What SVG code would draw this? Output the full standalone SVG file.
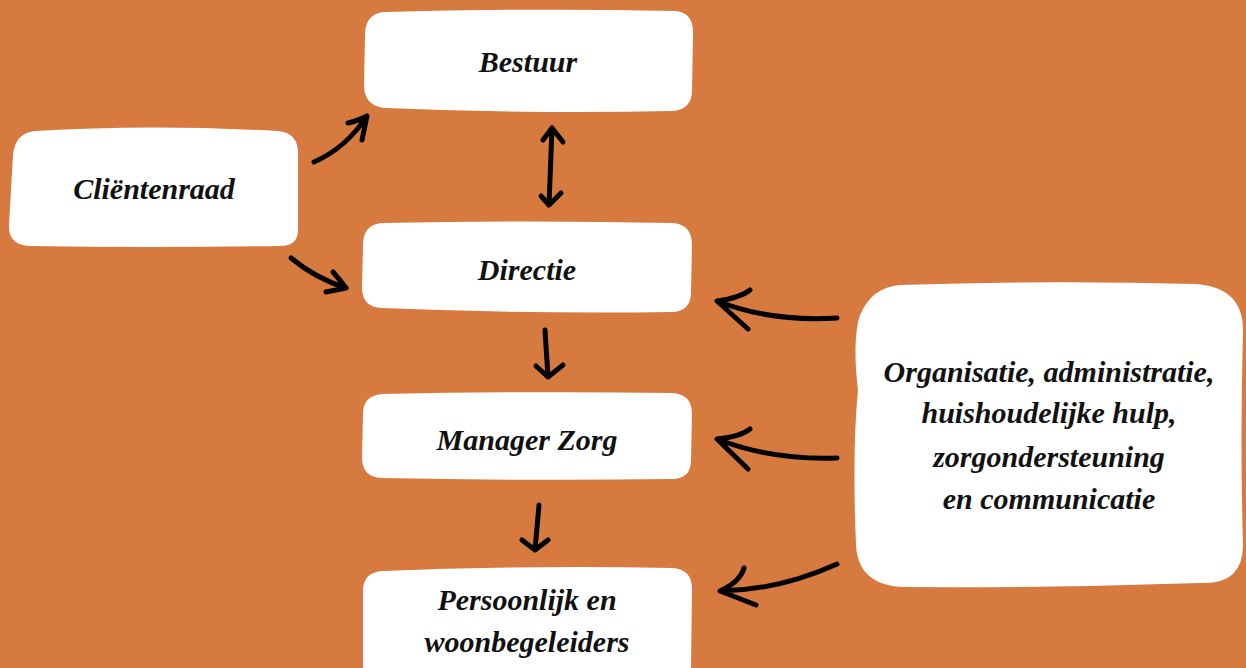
<svg xmlns="http://www.w3.org/2000/svg" width="1246" height="668" viewBox="0 0 1246 668">
<style>
.box{fill:#ffffff}
.t{font-family:"Liberation Serif","DejaVu Serif",serif;font-style:italic;font-weight:bold;font-size:30px;fill:#111;text-anchor:middle}
.c{fill:none;stroke:#000;stroke-width:5;stroke-linecap:round;stroke-linejoin:round}
</style>
<rect width="1246" height="668" fill="#D77A40"/>
<g id="bestuur">
<path class="box" d="M385,12 Q530,8 675,11 Q694,12 693,35 L692,90 Q692,110 672,111 Q530,114 385,108 Q364,106 364,85 L365,35 Q365,13 385,12 Z"/>
<text class="t" x="528" y="72">Bestuur</text>
</g>
<g id="clientenraad">
<path class="box" d="M35,131 Q150,124 278,131 Q299,133 298,155 L298,230 Q298,246 280,246 Q150,248 30,246 Q8,245 9,225 L13,155 Q15,133 35,131 Z"/>
<text class="t" x="154" y="199">Cliëntenraad</text>
</g>
<g id="directie">
<path class="box" d="M383,223 Q530,220 672,223 Q692,224 692,245 L691,292 Q691,312 671,312 Q530,314 382,308 Q362,307 362,288 L363,245 Q363,224 383,223 Z"/>
<text class="t" x="527" y="280">Directie</text>
</g>
<g id="manager">
<path class="box" d="M383,394 Q530,391 672,393 Q692,394 692,414 L691,460 Q691,479 672,479 Q530,481 382,478 Q362,477 362,458 L363,414 Q363,395 383,394 Z"/>
<text class="t" x="527" y="450">Manager Zorg</text>
</g>
<g id="persoonlijk">
<path class="box" d="M383,571 Q530,565 672,568 Q692,569 692,589 L691,668 L363,668 L363,591 Q363,572 383,571 Z"/>
<text class="t" x="527" y="610">Persoonlijk en</text>
<text class="t" x="527" y="652">woonbegeleiders</text>
</g>
<g id="ondersteuning">
<path class="box" d="M900,285 Q1050,280 1195,284 Q1243,287 1243,330 Q1240,440 1243,545 Q1243,585 1200,583 Q1050,588 905,587 Q858,586 856,545 Q852,450 858,390 Q852,340 860,315 Q872,287 900,285 Z"/>
<text class="t" x="1049" y="382">Organisatie, administratie,</text>
<text class="t" x="1049" y="423">huishoudelijke hulp,</text>
<text class="t" x="1049" y="467">zorgondersteuning</text>
<text class="t" x="1049" y="509">en communicatie</text>
</g>
<g id="connectors">
<path class="c" d="M314,162 Q346,148 367,116 M348,123 Q360,120 367,116 L362,140"/>
<path class="c" d="M291,258 Q315,278 346,288 M333,272 Q340,280 346,288 L326,292"/>
<path class="c" d="M552,128 L549,205 M543,140 L552,128 L563,142 M541,196 L549,205 L561,193"/>
<path class="c" d="M545,330 L548,377 M536,366 L548,377 L563,365"/>
<path class="c" d="M539,505 L535,550 M522,540 L535,550 L548,540"/>
<path class="c" d="M837,318 Q770,322 717,301 M750,290 Q740,298 717,301 L748,329"/>
<path class="c" d="M837,458 Q770,460 717,439 M750,429 Q740,437 717,439 L748,469"/>
<path class="c" d="M837,564 Q780,590 720,591 M744,568 Q740,582 720,591 L756,605"/>
</g>
</svg>
